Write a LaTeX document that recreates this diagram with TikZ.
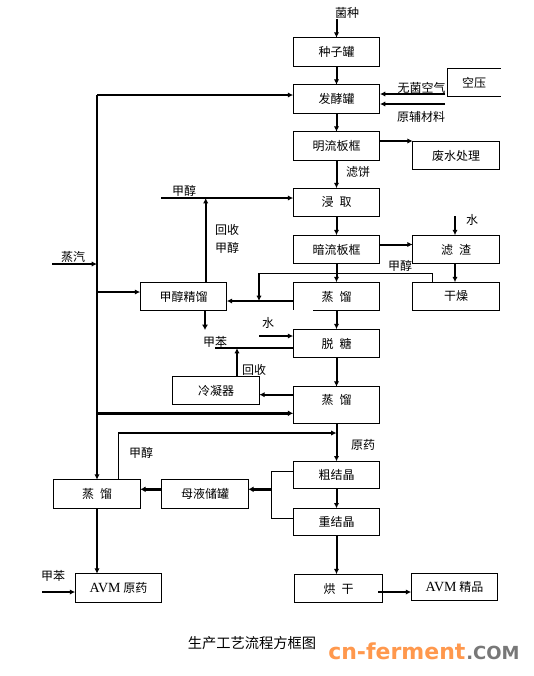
\documentclass[tikz,border=0pt]{standalone}
\usepackage{fontspec}
\setmainfont{Noto Sans CJK SC}
\newfontfamily\avmfont{Liberation Serif}
\newfontfamily\markfont{DejaVu Sans}[BoldFont={DejaVu Sans Bold}]
\usetikzlibrary{arrows.meta}
\definecolor{markorange}{RGB}{255,152,77}
\definecolor{markgray}{RGB}{120,120,120}
\newcommand{\avmname}{{\avmfont\fontsize{10.5pt}{11pt}\selectfont AVM}}
\tikzset{
    procbox/.style={draw, line width=0.75pt, inner sep=0pt, outer sep=0pt, minimum width=65pt, minimum height=21.5pt, font=\fontsize{9pt}{11pt}\selectfont},
    lbl/.style={inner sep=0pt, font=\fontsize{9pt}{11pt}\selectfont},
    flow/.style={-{Latex[length=4pt,width=4pt]}, line width=1.5pt},
    heavyflow/.style={-{Latex[length=4pt,width=4.5pt]}, line width=2.2pt},
    plainline/.style={line width=0.75pt},
    mainline/.style={line width=1.5pt}
}
\begin{document}
\begin{tikzpicture}[x=0.75pt,y=-0.75pt]
        \useasboundingbox (0,0) rectangle (534,676);
        % Main column
        \node[procbox] (zzg) at (336.5,52) {种子罐};
        \node[procbox] (fjg) at (336.5,99) {发酵罐};
        \node[procbox] (mlbk) at (336.5,146) {明流板框};
        \node[procbox] (jq) at (336.5,202.5) {浸\enspace 取};
        \node[procbox] (albk) at (336.5,249.5) {暗流板框};
        \node[procbox] (zla) at (336.5,296.5) {蒸\enspace 馏};
        \node[procbox] (tt) at (336.5,343.5) {脱\enspace 糖};
        \node[procbox, minimum height=27.5pt, text depth=9pt] (zlb) at (336.5,405) {蒸\enspace 馏};
        \node[procbox, minimum height=20.5pt] (cjj) at (336.5,475) {粗结晶};
        \node[procbox, minimum height=20.5pt] (cjc) at (336.5,522) {重结晶};
        \node[procbox, minimum width=66pt] (hg) at (338.5,588.5) {烘\enspace 干};
        % Right column
        \node[procbox] (fscl) at (456,155.5) {废水处理};
        \node[procbox] (lz) at (456,249.5) {滤\enspace 渣};
        \node[procbox] (gz) at (456,296.5) {干燥};
        \node[procbox, minimum height=20.5pt] (jp) at (454.5,587) {\avmname{} 精品};
        % Left part
        \node[procbox] (jcjl) at (183.5,296.5) {甲醇精馏};
        \node[procbox] (lnq) at (216,390.5) {冷凝器};
        \node[procbox] (zlc) at (97,494) {蒸\enspace 馏};
        \node[procbox] (mycg) at (205,494) {母液储罐};
        \node[procbox] (yy) at (118.5,588) {\avmname{} 原药};
        % Box with open side
        \node[lbl, minimum width=40pt, minimum height=21pt] (ky) at (474,82.5) {空压};
        \draw[plainline] (ky.north east) -- (ky.north west) -- (ky.south west) -- (ky.south east);
        % Gap in the corner
        \draw[white, line width=1.2pt] (zla.south west) -- ++(20,0);
        % Free ends
        \coordinate (jzin) at (336.5,19);
        \coordinate (wjkq) at (445,94);
        \coordinate (wjfg) at (380,94);
        \coordinate (fcl) at (445,104);
        \coordinate (fclg) at (380,104);
        \coordinate (jcin) at (161,198);
        \coordinate (jchs) at (205.7,198);
        \coordinate (lzsh) at (455,216);
        \coordinate (qin) at (52,264);
        \coordinate (shuiin) at (259,336);
        \coordinate (jbline) at (215,348);
        \coordinate (jbhs) at (237,348);
        \coordinate (jbdown) at (205,330);
        \coordinate (jcback) at (118.3,433);
        \coordinate (jbin) at (42,592);
        % Steam line
        \coordinate (busa) at (97,95);
        \coordinate (busb) at (97,264);
        \coordinate (busc) at (97,292);
        \coordinate (busd) at (97,413.3);
        \draw[flow] (busa) -- (zlc.north);
        \draw[flow] (busa) -- (busa -| fjg.west);
        \draw[flow] (qin) -- (busb);
        \draw[flow] (busc) -- (busc -| jcjl.west);
        \draw[heavyflow] (busd) -- (busd -| zlb.west);
        % Main flow
        \draw[flow] (jzin) -- (zzg.north);
        \draw[flow] (zzg.south) -- (fjg.north);
        \draw[flow] (fjg.south) -- (mlbk.north);
        \draw[flow] (mlbk.south) -- (jq.north);
        \draw[flow] (jq.south) -- (albk.north);
        \draw[flow] (albk.south) -- (zla.north);
        \draw[flow] (zla.south) -- (tt.north);
        \draw[flow] (tt.south) -- (zlb.north);
        \draw[flow] (zlb.south) -- (cjj.north);
        \draw[flow] (cjj.south) -- (cjc.north);
        \draw[flow] (cjc.south) -- (cjc.south |- hg.north);
        \draw[flow] (zlc.south) -- (zlc.south |- yy.north);
        % Side inputs and outputs
        \draw[flow] (wjkq) -- (wjfg);
        \draw[flow] (fcl) -- (fclg);
        \draw[flow] ([yshift=3.75pt]mlbk.east) -- ([yshift=3.75pt]mlbk.east -| fscl.west);
        \draw[flow] ([yshift=3.75pt]albk.east) -- ([yshift=3.75pt]albk.east -| lz.west);
        \draw[flow] (lzsh) -- (lzsh |- lz.north);
        \draw[flow] (lz.south -| lzsh) -- (gz.north -| lzsh);
        \draw[flow] (jcin) -- (jcin -| jq.west);
        \draw[flow] (jcjl.north -| jchs) -- (jchs);
        % Methanol from the dryer
        \coordinate (gzup) at (432.7,273.3);
        \coordinate (jcfork) at (259,273.3);
        \coordinate (jcjoin) at (259,301);
        \draw[flow] (jcjoin -| zla.west) -- (jcjoin -| jcjl.east);
        \draw[plainline] (gz.north -| gzup) -- (gzup) -- (jcfork);
        \draw[flow] (jcfork) -- (jcjoin);
        \draw[heavyflow] (jcjl.south -| jbdown) -- (jbdown);
        % Water and toluene
        \draw[flow] (shuiin) -- (shuiin -| tt.west);
        \draw[mainline] (jbline) -- (jbline -| tt.west);
        \draw[flow] (lnq.north -| jbhs) -- (jbhs);
        \coordinate (lnqin) at (293,394.7);
        \draw[flow] (lnqin) -- (lnqin -| lnq.east);
        % Methanol back to crystallization
        \draw[plainline] (zlc.north -| jcback) -- (jcback);
        \draw[flow] (jcback) -- (jcback -| zlb.south);
        % Mother liquor
        \coordinate (mybus) at (271.3,489.3);
        \draw[plainline] ([yshift=3pt]cjj.west) -| (mybus);
        \draw[plainline] ([yshift=3pt]cjc.west) -| (mybus);
        \draw[heavyflow] (mybus) -- (mybus -| mycg.east);
        \draw[heavyflow] (mycg.west |- mybus) -- (zlc.east |- mybus);
        % Lower outputs
        \draw[flow] (jbin) -- (jbin -| yy.west);
        \coordinate (hgout) at (378,592);
        \draw[flow] (hgout) -- (hgout -| jp.west);
        % Labels
        \node[lbl] (jzt) at (347,13) {菌种};
        \node[lbl] (wjt) at (421.7,88) {无菌空气};
        \node[lbl] (fct) at (421,117) {原辅材料};
        \node[lbl] (lbt) at (358,172) {滤饼};
        \node[lbl] (jct) at (184,191) {甲醇};
        \node[lbl] (hst) at (227,230) {回收};
        \node[lbl] (hjt) at (227,248) {甲醇};
        \node[lbl] (qit) at (73,257) {蒸汽};
        \node[lbl] (sat) at (472,220) {水};
        \node[lbl] (jgt) at (400,266) {甲醇};
        \node[lbl] (sbt) at (268,323) {水};
        \node[lbl] (jbt) at (215,342) {甲苯};
        \node[lbl] (hbt) at (254,370) {回收};
        \node[lbl] (ydt) at (141,453) {甲醇};
        \node[lbl] (yyt) at (363,445) {原药};
        \node[lbl] (jbu) at (53,576) {甲苯};
        % Caption and mark
        \node[inner sep=0pt, font=\fontsize{10.7pt}{12pt}\selectfont] (cap) at (252,642.7) {生产工艺流程方框图};
        \node[inner sep=0pt, anchor=base west, font=\markfont\bfseries\fontsize{16.5pt}{17pt}\selectfont, text=markorange] (mark) at (328,659) {cn-ferment};
        \node[inner sep=0pt, anchor=base west, font=\markfont\bfseries\fontsize{13.5pt}{15pt}\selectfont, text=markgray] (markb) at (466,659) {.COM};
    \end{tikzpicture}
\end{document}
